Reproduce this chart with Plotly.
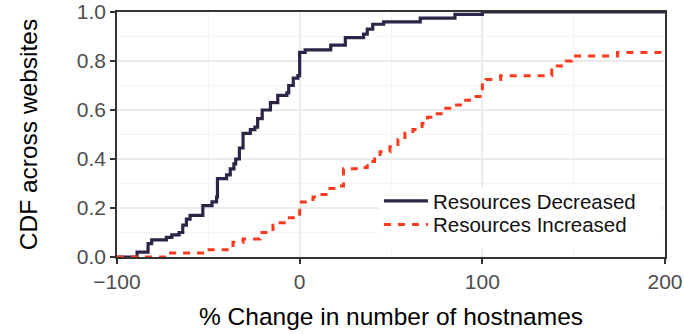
import plotly.graph_objects as go

# Step points of each empirical CDF: % change in hostnames -> cumulative share of websites
decreased_pct = [-100, -89, -83, -81, -73, -70, -66, -64, -62, -60, -53, -48, -45.5, -45,
                 -40, -38, -36, -35, -33, -31, -27, -24.5, -23, -20.5, -16, -12, -7, -6,
                 -3.5, -1, 0, 3, 17, 25, 35, 37, 40, 46, 66, 85, 100, 200]
decreased_cdf = [0.0, 0.02, 0.055, 0.07, 0.08, 0.09, 0.10, 0.13, 0.155, 0.17, 0.21, 0.225, 0.245, 0.32,
                 0.335, 0.36, 0.38, 0.40, 0.445, 0.505, 0.52, 0.53, 0.565, 0.60, 0.63, 0.66, 0.67, 0.70,
                 0.73, 0.74, 0.835, 0.845, 0.865, 0.895, 0.91, 0.93, 0.95, 0.96, 0.975, 0.99, 1.0, 1.0]

increased_pct = [-100, -72.6, -51, -36.5, -31, -21.7, -14.6, -12, -7, 0, 4, 7.3, 10, 15.5, 21, 24,
                 34, 37, 41, 44, 49.4, 53.8, 57.6, 62, 67, 70, 73, 78.4, 84, 88, 93, 100, 102, 110,
                 138, 141, 146, 149, 174, 200]
increased_cdf = [0.0, 0.016, 0.03, 0.06, 0.073, 0.10, 0.13, 0.14, 0.16, 0.225, 0.235, 0.245, 0.255, 0.28,
                 0.29, 0.36, 0.365, 0.39, 0.41, 0.43, 0.45, 0.48, 0.505, 0.52, 0.545, 0.57, 0.585, 0.607,
                 0.62, 0.64, 0.655, 0.72, 0.725, 0.74, 0.763, 0.78, 0.80, 0.82, 0.835, 0.835]

x_ticks = [-100, 0, 100, 200]
y_ticks = [0.0, 0.2, 0.4, 0.6, 0.8, 1.0]

DARK = "#2e2447"
RED = "#fb3a1e"
FONT = "Liberation Sans, Arial, sans-serif"

fig = go.Figure()
fig.add_trace(go.Scatter(
    x=decreased_pct, y=decreased_cdf, mode="lines", line_shape="hv",
    line=dict(color=DARK, width=3.2), name="Resources Decreased", legend="legend",
))
fig.add_trace(go.Scatter(
    x=increased_pct, y=increased_cdf, mode="lines", line_shape="hv",
    line=dict(color=RED, width=3, dash="7px,7px"), name="Resources Increased", legend="legend2",
))

axis_common = dict(
    showline=True, mirror=True, linecolor="#333333", linewidth=1.5,
    ticks="outside", ticklen=5, tickwidth=1.5, tickcolor="#333333",
    showgrid=True, gridcolor="#ebebeb", gridwidth=1.5, zeroline=False, automargin=False,
    tickfont=dict(family=FONT, size=21, color="#4d4d4d"),
)

fig.update_xaxes(
    range=[-100, 200], tickvals=x_ticks, ticktext=["\u2212100", "0", "100", "200"],
    minor=dict(dtick=50, tick0=-100, showgrid=True, gridcolor="#f4f4f4", gridwidth=1, ticks=""),
    title=dict(text="% Change in number of hostnames", font=dict(family=FONT, size=24.5, color="#000000"), standoff=16),
    **axis_common,
)
fig.update_yaxes(
    range=[0, 1], tickvals=y_ticks, ticktext=[f"{v:.1f}" for v in y_ticks],
    minor=dict(dtick=0.1, tick0=0, showgrid=True, gridcolor="#f4f4f4", gridwidth=1, ticks=""),
    title=dict(text="CDF across websites", font=dict(family=FONT, size=24.5, color="#000000"), standoff=32),
    **axis_common,
)

# White panel behind the two legend entries (covers the grid there)
fig.add_shape(
    type="rect", xref="paper", yref="paper", x0=0.478, x1=0.993, y0=0.035, y1=0.283,
    fillcolor="#ffffff", line=dict(width=0), layer="above",
)

legend_common = dict(
    bgcolor="rgba(0,0,0,0)", borderwidth=0, xanchor="left", yanchor="middle",
    font=dict(family=FONT, size=20.5, color="#111111"), itemwidth=44,
)
fig.update_layout(
    width=684, height=334,
    margin=dict(l=117, r=19, t=12, b=77, autoexpand=False),
    paper_bgcolor="#ffffff", plot_bgcolor="#ffffff",
    showlegend=True,
    legend=dict(x=0.478, y=0.228, **legend_common),
    legend2=dict(x=0.478, y=0.132, **legend_common),
)

fig.write_html("out.html")
